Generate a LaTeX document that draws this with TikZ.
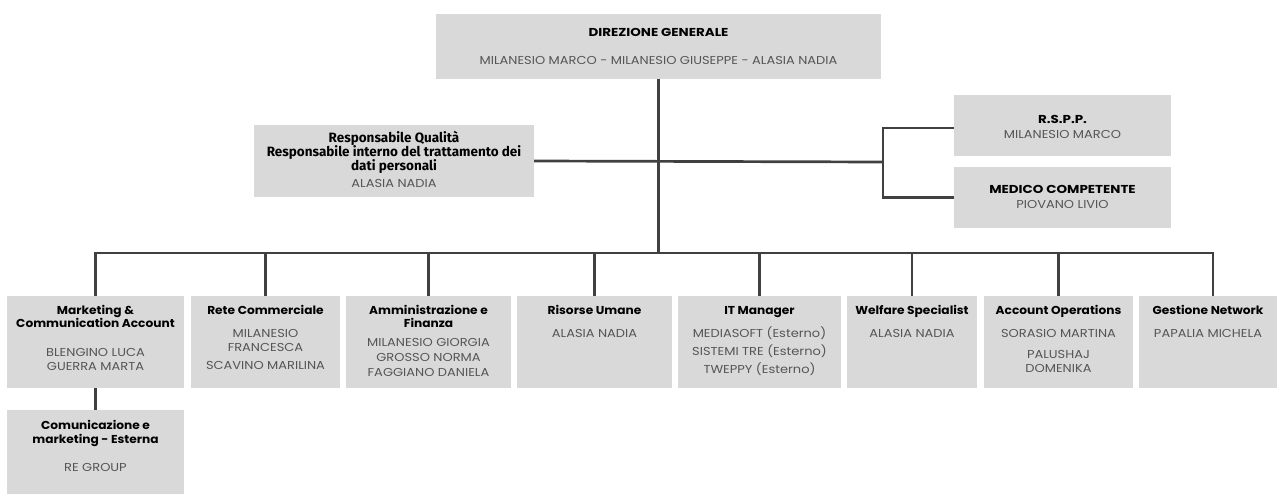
\documentclass[tikz,border=0pt]{standalone}
\usepackage{fontspec}
\setmainfont{Poppins}
\newfontfamily\titlefont{Poppins}[FakeStretch=1.06]
\newfontfamily\capsfont{Poppins}[FakeStretch=1.17]
\newfontfamily\namefont{Poppins}[FakeStretch=1.13]
\newfontfamily\fira{Fira Sans}
\definecolor{boxgray}{HTML}{D9D9D9}
\definecolor{linegray}{HTML}{404040}
\definecolor{namegray}{HTML}{555555}
\begin{document}
\begin{tikzpicture}[x=1pt,y=-1pt,
  box/.style 2 args={fill=boxgray,draw=none,inner sep=0pt,minimum width=#1pt,minimum height=#2pt},
  titletxt/.style={font=\titlefont\bfseries\fontsize{11.5}{13}\selectfont,text=black,anchor=base,inner sep=0pt},
  capstxt/.style={font=\capsfont\bfseries\fontsize{11.5}{13}\selectfont,text=black,anchor=base,inner sep=0pt},
  qtitle/.style={font=\fira\bfseries\fontsize{13.5}{14}\selectfont,text=black,anchor=base,inner sep=0pt},
  nametxt/.style={font=\namefont\fontsize{11.5}{13}\selectfont,text=namegray,anchor=base,inner sep=0pt},
  conn/.style={draw=linegray,line width=2.7pt}]
\useasboundingbox (0,0) rectangle (1278,495);
% boxes
\node[box={445}{65}] (dir) at (658.5,46.5) {};
\node[box={280}{72}] (qual) at (394,161) {};
\node[box={217}{61}] (rspp) at (1062.5,125.5) {};
\node[box={217}{61}] (medico) at (1062.5,197.5) {};
\node[box={177}{92}] (mkt) at (95.5,342) {};
\node[box={149}{92}] (rete) at (265.5,342) {};
\node[box={165}{92}] (amm) at (428.5,342) {};
\node[box={155}{92}] (ris) at (594.5,342) {};
\node[box={163}{92}] (it) at (759.5,342) {};
\node[box={130}{92}] (wel) at (912,342) {};
\node[box={149}{92}] (acc) at (1058.5,342) {};
\node[box={138}{92}] (ges) at (1208,342) {};
\node[box={177}{84}] (com) at (95.5,452) {};
% texts
\node[capstxt] (dirT) at (658.5,37) {DIREZIONE GENERALE};
\node[nametxt] (dirN) at (658.5,65) {MILANESIO MARCO - MILANESIO GIUSEPPE - ALASIA NADIA};
\node[qtitle] (qualT1) at (394,142) {Responsabile Qualità};
\node[qtitle] (qualT2) at (394,156) {Responsabile interno del trattamento dei};
\node[qtitle] (qualT3) at (394,170) {dati personali};
\node[nametxt] (qualN) at (394,187) {ALASIA NADIA};
\node[capstxt] (rsppT) at (1062.5,123) {R.S.P.P.};
\node[nametxt] (rsppN) at (1062.5,139) {MILANESIO MARCO};
\node[capstxt] (medT) at (1062.5,193) {MEDICO COMPETENTE};
\node[nametxt] (medN) at (1062.5,208) {PIOVANO LIVIO};
\node[titletxt] (mktT1) at (95.5,314) {Marketing \&};
\node[titletxt] (mktT2) at (95.5,327.5) {Communication Account};
\node[nametxt] (mktN1) at (95.5,356) {BLENGINO LUCA};
\node[nametxt] (mktN2) at (95.5,370) {GUERRA MARTA};
\node[titletxt] (reteT) at (265.5,314) {Rete Commerciale};
\node[nametxt] (reteN1) at (265.5,337) {MILANESIO};
\node[nametxt] (reteN2) at (265.5,351) {FRANCESCA};
\node[nametxt] (reteN3) at (265.5,369) {SCAVINO MARILINA};
\node[titletxt] (ammT1) at (428.5,314) {Amministrazione e};
\node[titletxt] (ammT2) at (428.5,327.5) {Finanza};
\node[nametxt] (ammN1) at (428.5,346) {MILANESIO GIORGIA};
\node[nametxt] (ammN2) at (428.5,361) {GROSSO NORMA};
\node[nametxt] (ammN3) at (428.5,376) {FAGGIANO DANIELA};
\node[titletxt] (risT) at (594.5,314) {Risorse Umane};
\node[nametxt] (risN) at (594.5,337) {ALASIA NADIA};
\node[titletxt] (itT) at (759.5,314) {IT Manager};
\node[nametxt] (itN1) at (759.5,337) {MEDIASOFT (Esterno)};
\node[nametxt] (itN2) at (759.5,355) {SISTEMI TRE (Esterno)};
\node[nametxt] (itN3) at (759.5,373) {TWEPPY (Esterno)};
\node[titletxt] (welT) at (912,314) {Welfare Specialist};
\node[nametxt] (welN) at (912,337) {ALASIA NADIA};
\node[titletxt] (accT) at (1058.5,314) {Account Operations};
\node[nametxt] (accN1) at (1058.5,337) {SORASIO MARTINA};
\node[nametxt] (accN2) at (1058.5,358) {PALUSHAJ};
\node[nametxt] (accN3) at (1058.5,372) {DOMENIKA};
\node[titletxt] (gesT) at (1208,314) {Gestione Network};
\node[nametxt] (gesN) at (1208,337) {PAPALIA MICHELA};
\node[titletxt] (comT1) at (95.5,429) {Comunicazione e};
\node[titletxt] (comT2) at (95.5,443) {marketing - Esterna};
\node[nametxt] (comN) at (95.5,471) {RE GROUP};
% connectors
\coordinate (bus) at (658,253);
\coordinate (brk) at (883,162);
\coordinate (dropG) at (1213,253);
\draw[conn] (dir.south) -- (dir.south |- bus);
\draw[conn] (qual.east) -- (brk);
\draw[conn] (rspp.west |- 0,128) -| (brk) |- (medico.west);
\draw[conn] ([xshift=-1.35pt]bus -| mkt.north) -- ([xshift=1.35pt]dropG);
\foreach \b in {mkt,rete,amm,ris,it,wel,acc}{
  \draw[conn] (bus -| \b.north) -- (\b.north);
}
\draw[conn] (dropG) -- (dropG |- ges.north);
\draw[conn] (mkt.south) -- (com.north);
\end{tikzpicture}
\end{document}
